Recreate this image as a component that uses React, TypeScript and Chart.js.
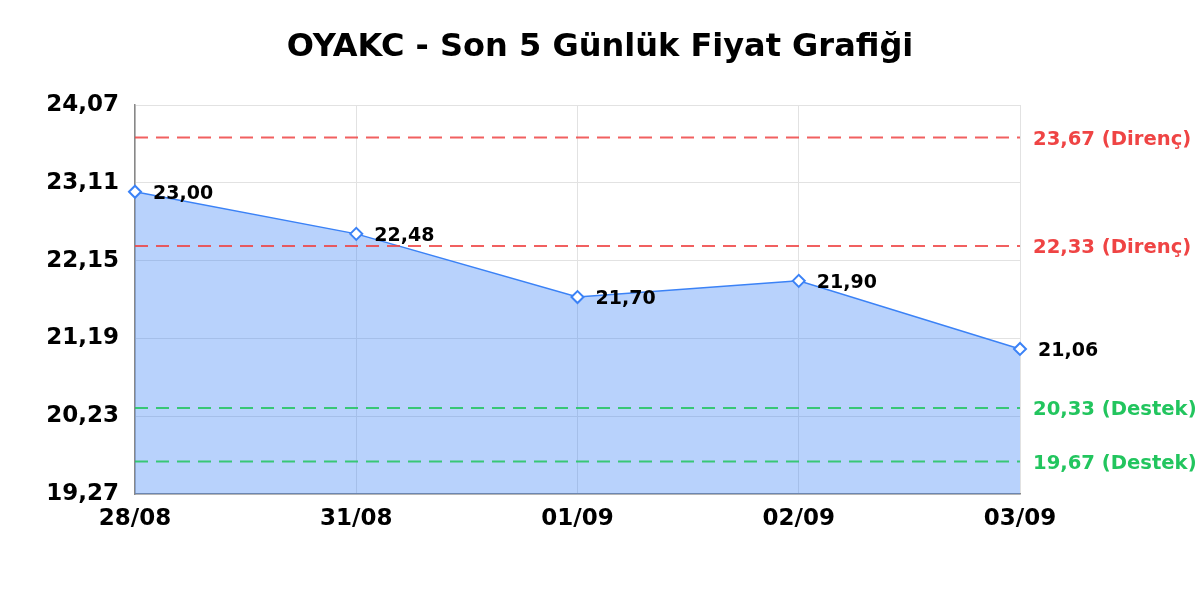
import { Chart, registerables } from "chart.js";
import { useEffect, useRef } from "react";

Chart.register(...registerables);

const title = "OYAKC - Son 5 Günlük Fiyat Grafiği";
const dates = ["28/08", "31/08", "01/09", "02/09", "03/09"];
const prices = [23.0, 22.48, 21.7, 21.9, 21.06];
const yTicks = [19.27, 20.23, 21.19, 22.15, 23.11, 24.07];
const resistance = [23.67, 22.33];
const support = [20.33, 19.67];

const FONT = "'DejaVu Sans', sans-serif";
const BLUE = "#3b82f6";
const RED = "#ef4444";
const GREEN = "#22c55e";

const fmt = (v: number) => v.toFixed(2).replace(".", ",");

const extrasPlugin = {
  id: "extras",
  afterDraw(chart: any) {
    const { ctx } = chart;
    ctx.save();
    ctx.fillStyle = "#000";
    ctx.font = `bold 32px ${FONT}`;
    ctx.textAlign = "center";
    ctx.textBaseline = "middle";
    ctx.fillText(title, chart.width / 2, 48);
    ctx.restore();
  },
  afterDatasetsDraw(chart: any) {
    const { ctx, chartArea } = chart;
    const y = chart.scales.y;
    const levels = [
      ...resistance.map((v) => ({ v, color: RED, text: `${fmt(v)} (Direnç)` })),
      ...support.map((v) => ({ v, color: GREEN, text: `${fmt(v)} (Destek)` })),
    ];
    ctx.save();
    levels.forEach((l) => {
      const py = y.getPixelForValue(l.v);
      ctx.strokeStyle = l.color;
      ctx.globalAlpha = 0.85;
      ctx.lineWidth = 2;
      ctx.setLineDash([13, 8]);
      ctx.beginPath();
      ctx.moveTo(chartArea.left, py);
      ctx.lineTo(chartArea.right, py);
      ctx.stroke();
      ctx.globalAlpha = 1;
      ctx.setLineDash([]);
      ctx.fillStyle = l.color;
      ctx.font = `bold 19.6px ${FONT}`;
      ctx.textAlign = "left";
      ctx.textBaseline = "middle";
      ctx.fillText(l.text, chartArea.right + 13, py + 2);
    });

    // price labels next to each point
    const meta = chart.getDatasetMeta(0);
    ctx.fillStyle = "#000";
    ctx.font = `bold 19px ${FONT}`;
    ctx.textAlign = "left";
    ctx.textBaseline = "middle";
    meta.data.forEach((pt: any, i: number) => {
      ctx.fillText(fmt(prices[i]), pt.x + 18, pt.y + 2);
    });
    ctx.restore();
  },
};

const PriceChart = () => {
  const chartRef = useRef<HTMLCanvasElement>(null);
  const chartInstance = useRef<Chart | null>(null);

  useEffect(() => {
    document.body.style.margin = "0";
    const canvas = chartRef.current;
    if (!canvas) return;
    const ctx = canvas.getContext("2d");
    if (!ctx) return;

    if (chartInstance.current) chartInstance.current.destroy();

    chartInstance.current = new Chart(ctx, {
      type: "line",
      data: {
        labels: dates,
        datasets: [
          {
            data: prices,
            borderColor: BLUE,
            borderWidth: 1.5,
            backgroundColor: "rgba(59,130,246,0.36)",
            fill: true,
            tension: 0,
            pointStyle: "rectRot",
            pointRadius: 6,
            pointBorderWidth: 2,
            pointBackgroundColor: "#fff",
            pointBorderColor: BLUE,
          },
        ],
      },
      options: {
        animation: false,
        responsive: true,
        maintainAspectRatio: false,
        layout: { padding: { top: 105, right: 180, left: 0, bottom: 0 } },
        plugins: { legend: { display: false }, title: { display: false }, tooltip: { enabled: false } },
        scales: {
          x: {
            grid: { color: "#e2e2e2", drawTicks: false },
            border: { color: "#888", width: 1.5 },
            ticks: { color: "#000", font: { family: FONT, size: 23, weight: "bold" }, padding: 11, maxRotation: 0 },
            afterFit: (s: any) => { s.height = 106; },
          },
          y: {
            min: yTicks[0],
            max: yTicks[yTicks.length - 1],
            afterBuildTicks: (s: any) => { s.ticks = yTicks.map((v) => ({ value: v })); },
            grid: { color: "#e2e2e2", drawTicks: false },
            border: { color: "#888", width: 1.5 },
            ticks: {
              color: "#000",
              font: { family: FONT, size: 23, weight: "bold" },
              padding: 16,
              callback: (v: any) => fmt(Number(v)),
            },
            afterFit: (s: any) => { s.width = 135; },
          },
        },
      },
      plugins: [extrasPlugin],
    });

    return () => {
      if (chartInstance.current) {
        chartInstance.current.destroy();
        chartInstance.current = null;
      }
    };
  }, []);

  return (
    <div style={{ width: 1200, height: 600, position: "relative" }}>
      <canvas ref={chartRef} />
    </div>
  );
};

export default function App() {
  return <PriceChart />;
}
